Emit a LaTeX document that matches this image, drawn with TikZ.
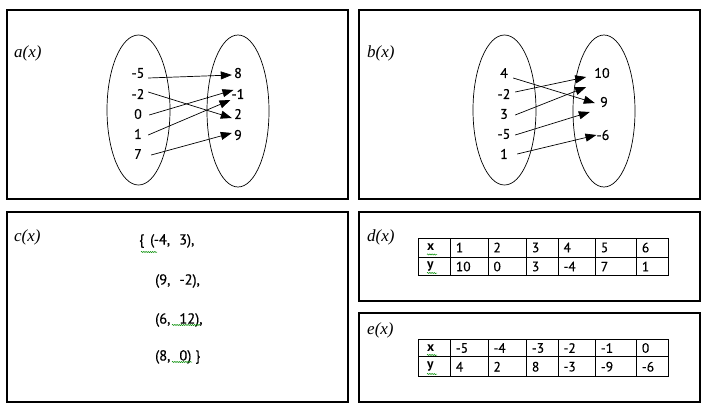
\documentclass[tikz,border=0pt]{standalone}
\usepackage{fontspec}
\setmainfont{PT Sans}[UprightFeatures={FakeBold=0.4}]
\newfontfamily\fnfont{Liberation Serif}
\usetikzlibrary{arrows.meta,shapes.geometric,decorations.pathmorphing}
\tikzset{
  panel/.style={draw, line width=1.1pt},
  oval/.style={draw, ellipse, line width=0.7pt, inner sep=0pt},
  lbl/.style={font=\fontsize{14}{16}\selectfont, inner sep=1pt},
  lft/.style={lbl, minimum width=18pt},
  rgt/.style={lbl, minimum width=12pt},
  fnname/.style={font=\fnfont\itshape\fontsize{17}{19}\selectfont, anchor=west, inner sep=0pt},
  arr/.style={-{Triangle[length=11pt,width=8pt]}, line width=0.7pt},
  squig/.style={draw=green!55!black, line width=0.5pt, decorate,
    decoration={snake, amplitude=0.6pt, segment length=2.2pt}},
  grid/.style={draw, line width=0.8pt},
  cell/.style={anchor=west, inner sep=0pt, font=\fontsize{13.5}{15}\selectfont},
  settext/.style={anchor=west, inner sep=0pt, font=\fontsize{14.5}{16}\selectfont},
}
\newcommand{\dsp}{\hspace{9pt}}
\begin{document}
\begin{tikzpicture}[x=1pt, y=-1pt]
\useasboundingbox (0,0) rectangle (710,408);
% panels
\draw[panel] (7,10) rectangle (348,199);
\draw[panel] (359,10) rectangle (700,199);
\draw[panel] (7,212) rectangle (348,402);
\draw[panel] (359,212) rectangle (700,301);
\draw[panel] (359,313) rectangle (700,402);
% names
\node[fnname] (na) at (14,53) {a(x)};
\node[fnname] (nb) at (367,53) {b(x)};
\node[fnname] (nc) at (14,237) {c(x)};
\node[fnname] (nd) at (367,237) {d(x)};
\node[fnname] (ne) at (367,330) {e(x)};
% ---------- a(x)
\node[oval, minimum width=63pt, minimum height=150pt] (ovAL) at (138.5,110) {};
\node[oval, minimum width=62pt, minimum height=152pt] (ovAR) at (238,111) {};
\node[lft] (la1) at (138,73) {-5};
\node[lft] (la2) at (138,94) {-2};
\node[lft] (la3) at (138,114) {0};
\node[lft] (la4) at (138,134) {1};
\node[lft] (la5) at (138,154) {7};
\node[rgt] (ra1) at (238,73) {8};
\node[rgt] (ra2) at (238,94) {-1};
\node[rgt] (ra3) at (238,114) {2};
\node[rgt] (ra4) at (238,135) {9};
\draw[arr] ([shift={(1,5)}]la1.east) -- ([shift={(0,2)}]ra1.west);
\draw[arr] ([shift={(1,-2)}]la2.east) -- ([shift={(0,4)}]ra3.west);
\draw[arr] ([shift={(2,1)}]la3.east) -- ([shift={(3,-4)}]ra2.west);
\draw[arr] ([shift={(1,1)}]la4.east) -- ([shift={(0,6)}]ra2.west);
\draw[arr] ([shift={(4,1)}]la5.east) -- ([shift={(0,-2)}]ra4.west);
% ---------- b(x)
\node[oval, minimum width=63pt, minimum height=150pt] (ovBL) at (504.5,110) {};
\node[oval, minimum width=62pt, minimum height=152pt] (ovBR) at (604,111) {};
\node[lbl, minimum width=20pt] (lb1) at (504,73) {4};
\node[lbl, minimum width=20pt] (lb2) at (504,94) {-2};
\node[lbl, minimum width=20pt] (lb3) at (504,114) {3};
\node[lbl, minimum width=20pt] (lb4) at (504,134) {-5};
\node[lbl, minimum width=20pt] (lb5) at (504,154) {1};
\node[lbl, minimum width=14pt] (rb1) at (602,73) {10};
\node[lbl, minimum width=14pt] (rb2) at (604,102) {9};
\node[lbl, minimum width=14pt] (rb3) at (603,135) {-6};
\draw[arr] ([shift={(-1,5)}]lb1.east) -- ([shift={(-2,1)}]rb2.west);
\draw[arr] ([shift={(1,-2)}]lb2.east) -- ([shift={(-7,4)}]rb1.west);
\draw[arr] ([shift={(1,1)}]lb3.east) -- ([shift={(-7,14)}]rb1.west);
\draw[arr] ([shift={(1,1)}]lb4.east) -- ([shift={(-7,10)}]rb2.west);
\draw[arr] ([shift={(3,0)}]lb5.east) -- ([shift={(1,0)}]rb3.west);
% ---------- c(x)
\node[settext] (c1) at (139,241) {\{\hspace{6pt}(-4,\dsp 3),};
\node[settext] (c2) at (155,281) {(9,\dsp -2),};
\node[settext] (c3) at (155,320) {(6,\dsp 12),};
\node[settext] (c4) at (155,357) {(8,\dsp 0) \}};
\draw[squig] (141,252) -- (157,252);
\draw[squig] (172,325) -- (200,325);
\draw[squig] (172,362) -- (192,362);
% ---------- tables
\foreach \t/\top/\mid/\bot in {d/238/257/275.5, e/339.3/356.7/376.7}{
  \draw[grid] (418.3,\top) rectangle (668.3,\bot);
  \draw[grid] (418.3,\mid) -- (668.3,\mid);
  \foreach \xx in {450.7,488.3,526.7,558.3,595.7,636.7}{
    \draw[grid] (\xx,\top) -- (\xx,\bot);
  }
}
% d(x) table
\node[cell] (dx) at (427,247.5) {\textbf{x}};
\node[cell] (dy) at (427,266.5) {\textbf{y}};
\foreach \xx/\a/\b [count=\i] in {455.7/1/10, 493.3/2/0, 531.7/3/3, 563.3/4/-4, 600.7/5/7, 641.7/6/1}{
  \node[cell] (dx\i) at (\xx,247.5) {\a};
  \node[cell] (dy\i) at (\xx,266.5) {\b};
}
\draw[squig] (427,254.5) -- (437,254.5);
\draw[squig] (427,273) -- (437,273);
% e(x) table
\node[cell] (ex) at (427,348) {\textbf{x}};
\node[cell] (ey) at (427,366.7) {\textbf{y}};
\foreach \xx/\a/\b [count=\i] in {455.7/-5/4, 493.3/-4/2, 531.7/-3/8, 563.3/-2/-3, 600.7/-1/-9, 641.7/0/-6}{
  \node[cell] (ex\i) at (\xx,348) {\a};
  \node[cell] (ey\i) at (\xx,366.7) {\b};
}
\draw[squig] (427,355) -- (437,355);
\draw[squig] (427,374) -- (437,374);
\end{tikzpicture}
\end{document}
